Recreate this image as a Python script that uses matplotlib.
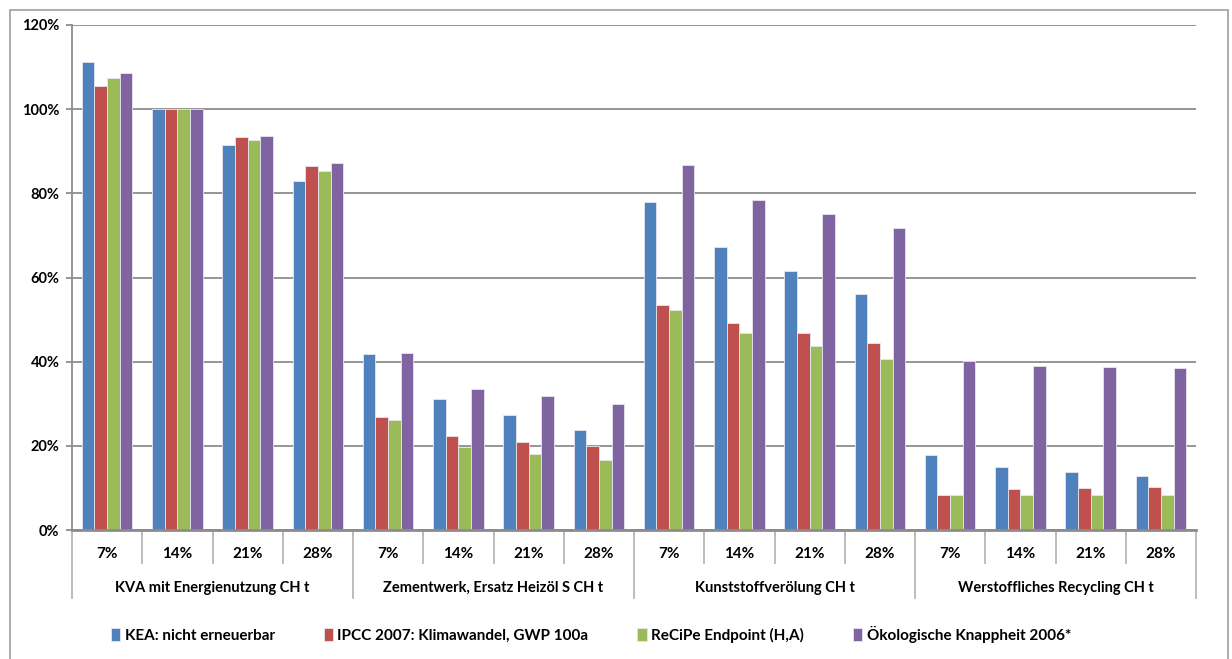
import matplotlib.pyplot as plt
import numpy as np
from matplotlib.patches import Rectangle
from matplotlib.transforms import blended_transform_factory

plt.rcParams['font.family'] = ['Lato', 'DejaVu Sans']
plt.rcParams['font.weight'] = 'bold'

# Categories: four processes, each with four shares
groups = ['KVA mit Energienutzung CH t', 'Zementwerk, Ersatz Heizöl S CH t',
          'Kunststoffverölung CH t', 'Werstoffliches Recycling CH t']
shares = ['7%', '14%', '21%', '28%']

series_names = ['KEA: nicht erneuerbar', 'IPCC 2007: Klimawandel, GWP 100a',
                'ReCiPe Endpoint (H,A)', 'Ökologische Knappheit 2006*']

# values in percent, one entry per (group, share)
kea = [111.2, 100.0, 91.5, 82.9,
       41.8, 31.1, 27.3, 23.8,
       77.9, 67.3, 61.5, 56.0,
       17.8, 15.0, 13.9, 12.8]
ipcc = [105.5, 100.0, 93.4, 86.5,
        26.8, 22.3, 21.0, 20.0,
        53.4, 49.3, 46.8, 44.4,
        8.2, 9.7, 9.9, 10.2]
recipe = [107.4, 100.0, 92.7, 85.3,
          26.1, 19.7, 18.1, 16.6,
          52.3, 46.7, 43.7, 40.7,
          8.2, 8.3, 8.3, 8.3]
ubp = [108.6, 100.0, 93.6, 87.2,
       42.1, 33.4, 31.8, 29.9,
       86.7, 78.5, 75.0, 71.8,
       40.2, 39.0, 38.7, 38.4]

colors = ['#4F81BD', '#C0504D', '#9BBB59', '#8064A2']
grid_color = '#8C8C8C'

fig = plt.figure(figsize=(12.32, 6.59), dpi=100)
ax = fig.add_axes([72 / 1232, 1 - 530 / 659, 1124 / 1232, 505 / 659])

n = len(groups) * len(shares)
x = np.arange(n)
width = 0.18
handles = []
for i, (vals, col, name) in enumerate(zip([kea, ipcc, recipe, ubp], colors, series_names)):
    b = ax.bar(x + (i - 1.5) * width, vals, width, color=col, edgecolor='#E6E6F0',
               linewidth=0.6, label=name, zorder=3)
    handles.append(b)

ax.set_xlim(-0.5, n - 0.5)
ax.set_ylim(0, 120)
ax.set_yticks(range(0, 121, 20))
ax.set_yticklabels([f'{v}%' for v in range(0, 121, 20)], fontsize=10.5, fontweight='bold')
ax.yaxis.grid(True, color=grid_color, linewidth=1.3, zorder=0)
ax.set_xticks([])
ax.tick_params(axis='y', length=4, width=1.3, color=grid_color, pad=5)

for s in ['top', 'right']:
    ax.spines[s].set_visible(False)
ax.spines['left'].set_color(grid_color)
ax.spines['left'].set_linewidth(1.3)
ax.spines['bottom'].set_color(grid_color)
ax.spines['bottom'].set_linewidth(2)
ax.spines['bottom'].set_zorder(4)

# two-level category axis below the plot
trans = blended_transform_factory(ax.transData, fig.transFigure)
y0 = 1 - 530 / 659
y_short = 1 - 563 / 659
y_long = 1 - 598 / 659
for k in range(n + 1):
    bx = k - 0.5
    y_end = y_long if k % 4 == 0 else y_short
    ax.plot([bx, bx], [y0, y_end], transform=trans, color='#B0B0B0',
            linewidth=1.2, clip_on=False)
for k in range(n):
    fig.text(k, 1 - 554 / 659, shares[k % 4], transform=trans, ha='center', va='center',
             fontsize=11, fontweight='bold')
for g, name in enumerate(groups):
    fig.text(g * 4 + 1.5, 1 - 588 / 659, name, transform=trans, ha='center', va='center',
             fontsize=10.5, fontweight='bold')

fig.legend(handles=handles, labels=series_names, loc='center',
           bbox_to_anchor=(591 / 1232, 1 - 634 / 659), ncol=4, frameon=False,
           handlelength=0.6, handleheight=0.9, handletextpad=0.3,
           columnspacing=3.2, prop={'weight': 'bold', 'size': 11})

# outer chart frame
fig.patches.append(Rectangle((10 / 1232, -0.05), 1218 / 1232, 1 - 10 / 659 + 0.05,
                             transform=fig.transFigure, fill=False,
                             edgecolor='#A6A6A6', linewidth=1.3))

fig.savefig('out.png', dpi=100)
